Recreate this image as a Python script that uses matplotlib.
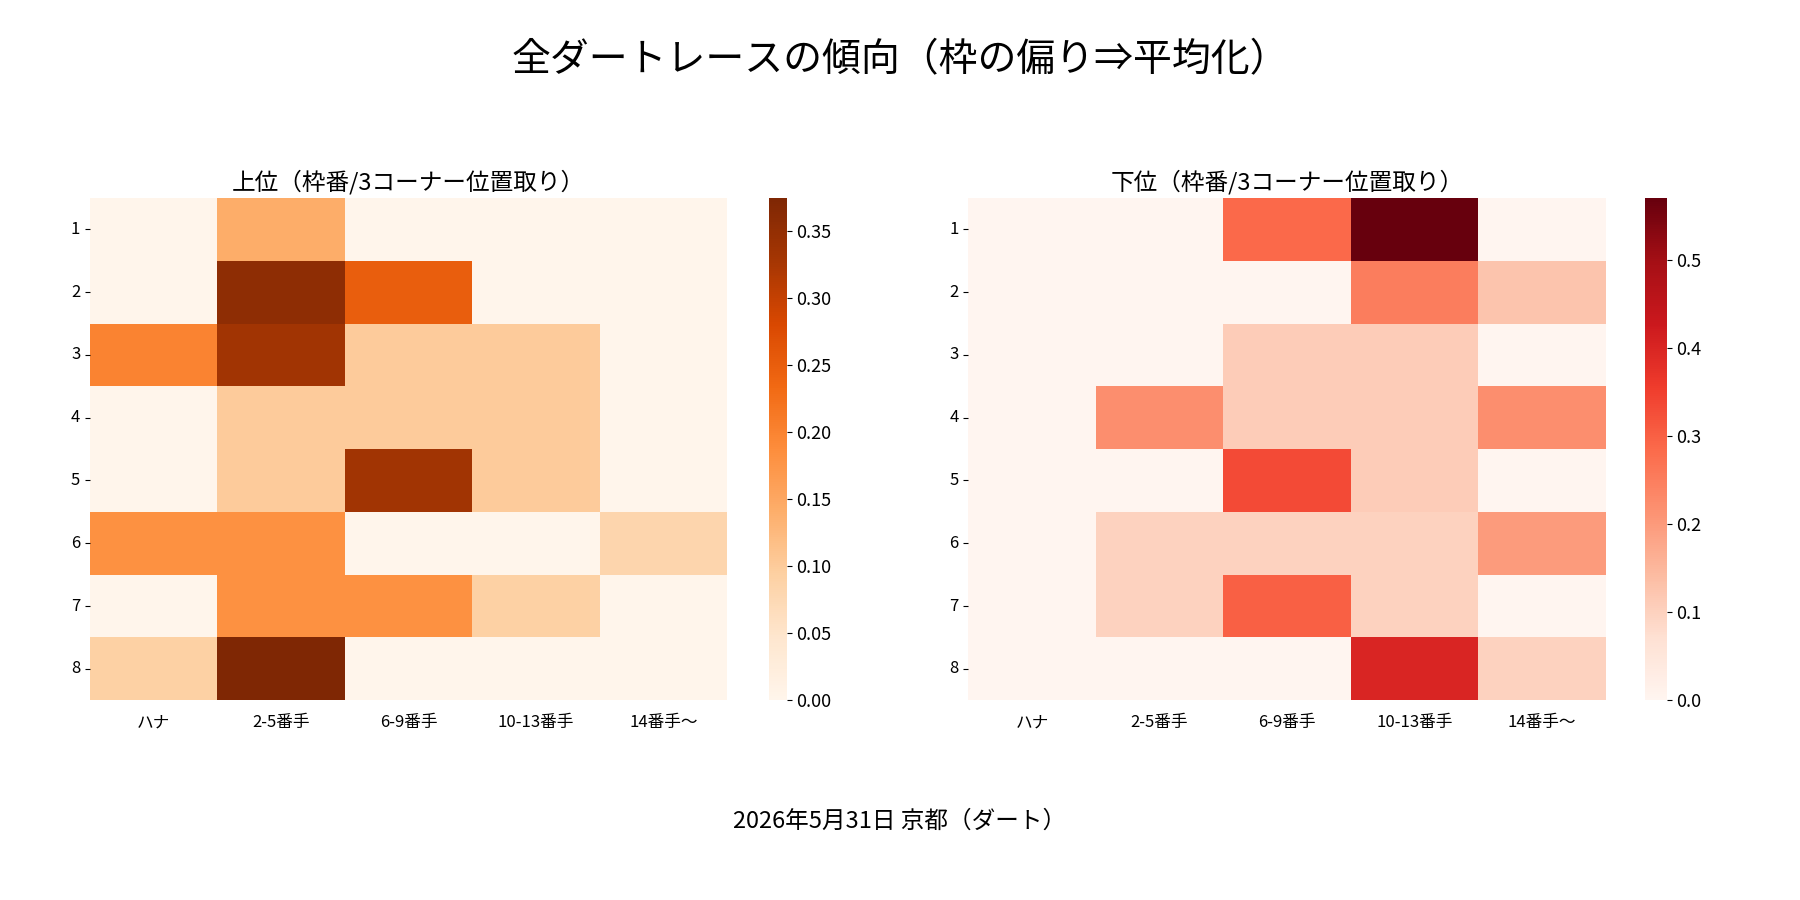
import matplotlib
matplotlib.use("Agg")
import matplotlib.pyplot as plt
import seaborn as sns
import numpy as np

plt.rcParams['font.family'] = ['Noto Sans CJK JP', 'DejaVu Sans']

cols = ["ハナ", "2-5番手", "6-9番手", "10-13番手", "14番手〜"]
rows = ["1", "2", "3", "4", "5", "6", "7", "8"]

top = [
    [0, 0.143, 0, 0, 0],
    [0, 0.357, 0.25, 0, 0],
    [0.2, 0.333, 0.1, 0.1, 0],
    [0, 0.1, 0.1, 0.1, 0],
    [0, 0.1, 0.333, 0.1, 0],
    [0.182, 0.182, 0, 0, 0.083],
    [0, 0.182, 0.182, 0.091, 0],
    [0.091, 0.375, 0, 0, 0],
]
bottom = [
    [0, 0, 0.286, 0.571, 0],
    [0, 0, 0, 0.25, 0.125],
    [0, 0, 0.111, 0.111, 0],
    [0, 0.222, 0.111, 0.111, 0.222],
    [0, 0, 0.333, 0.111, 0],
    [0, 0.1, 0.1, 0.1, 0.2],
    [0, 0.1, 0.3, 0.1, 0],
    [0, 0, 0, 0.4, 0.1],
]

fig = plt.figure(figsize=(18, 9), dpi=100)
ax1 = fig.add_axes([0.050, 0.222, 0.354, 0.558])
cax1 = fig.add_axes([0.427, 0.222, 0.010, 0.558])
ax2 = fig.add_axes([0.538, 0.222, 0.354, 0.558])
cax2 = fig.add_axes([0.914, 0.222, 0.012, 0.558])

sns.heatmap(np.array(top), ax=ax1, cbar_ax=cax1, cmap="Oranges",
            xticklabels=cols, yticklabels=rows)
sns.heatmap(np.array(bottom), ax=ax2, cbar_ax=cax2, cmap="Reds",
            xticklabels=cols, yticklabels=rows)

for ax, t in [(ax1, "上位（枠番/3コーナー位置取り）"), (ax2, "下位（枠番/3コーナー位置取り）")]:
    ax.set_title(t, fontsize=17)
    ax.tick_params(labelsize=12)
    ax.tick_params(axis='x', length=0, pad=10)
    ax.set_yticklabels(rows, rotation=0)
for c in (cax1, cax2):
    c.tick_params(labelsize=13)

fig.suptitle("全ダートレースの傾向（枠の偏り⇒平均化）", fontsize=28, y=0.955)
fig.text(0.5, 0.08, "2026年5月31日 京都（ダート）", ha="center", fontsize=17)

fig.savefig("out.png")
